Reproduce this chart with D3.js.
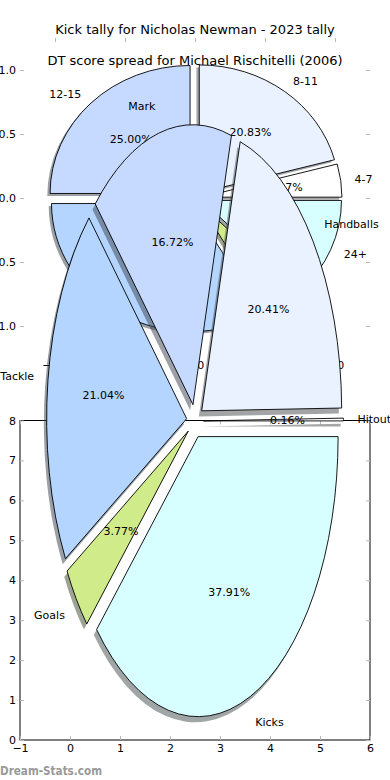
<!DOCTYPE html>
<html>
<head>
<meta charset="utf-8">
<script src="https://cdn.jsdelivr.net/npm/d3@7"></script>
<style>
body { margin: 0; background: #fff; }
text { font-family: "DejaVu Sans", sans-serif; }
</style>
</head>
<body>
<div id="wrapper"></div>
<script>
const titleKicks = 'Kick tally for Nicholas Newman - 2023 tally'
const titleDT = 'DT score spread for Michael Rischitelli (2006)'

// DT score spread (upper pie)
const dtRanges = ['4-7', '8-11', '12-15', '16-19', '20-23', '24+']
const dtShares = [4.17, 20.83, 25.00, 33.33, 4.17, 12.50]

// kick tally (lower pie)
const statNames = ['Hitout', 'Handballs', 'Mark', 'Tackle', 'Goals', 'Kicks']
const statShares = [0.16, 20.41, 16.72, 21.04, 3.77, 37.91]

const pieTicks = [-1, -0.5, 0, 0.5, 1]
const frameXTicks = [-1, 0, 1, 2, 3, 4, 5, 6]
const frameYTicks = [0, 1, 2, 3, 4, 5, 6, 7, 8]

const sliceColors = ['#ffffff', '#eaf2ff', '#c6d9ff', '#b3d5ff', '#d0eb8a', '#d8ffff']

const width = 390
const height = 780

const svg = d3.select('#wrapper')
    .append('svg')
    .attr('width', width)
    .attr('height', height)

const tickGrey = '#b8b8b8'
const fontSize = 11

// scales
const dtX = d3.scaleLinear().domain([-1.25, 1.25]).range([20, 370])
const dtY = d3.scaleLinear().domain([-1.25, 1.25]).range([358, 38])
const statX = d3.scaleLinear().domain([-1.25, 1.25]).range([20, 370])
const statY = d3.scaleLinear().domain([-1.25, 1.25]).range([771, 71])
const frameX = d3.scaleLinear().domain([-1, 6]).range([20, 370])
const frameY = d3.scaleLinear().domain([0, 8]).range([740, 420.5])

const styleAxis = (g) => {
    g.select('.domain').remove()
    g.selectAll('line').attr('stroke', tickGrey)
    g.selectAll('text')
        .attr('fill', '#000')
        .style('font-size', fontSize + 'px')
        .style('font-family', '"DejaVu Sans", sans-serif')
}

// upper axes: ticks only, no frame
const dtAxes = svg.append('g')
dtAxes.append('g')
    .attr('transform', `translate(${dtX.range()[0]},0)`)
    .call(d3.axisLeft(dtY).tickValues(pieTicks).tickFormat(d3.format('.1f')).tickSizeInner(-4).tickSizeOuter(0).tickPadding(4))
    .call(styleAxis)
dtAxes.append('g')
    .attr('transform', `translate(${dtX.range()[1]},0)`)
    .call(d3.axisRight(dtY).tickValues(pieTicks).tickFormat('').tickSizeInner(-4).tickSizeOuter(0))
    .call(styleAxis)
dtAxes.append('g')
    .attr('transform', `translate(0,${dtY.range()[1]})`)
    .call(d3.axisTop(dtX).tickValues(pieTicks).tickFormat('').tickSizeInner(-4).tickSizeOuter(0))
    .call(styleAxis)
dtAxes.append('g')
    .attr('transform', `translate(0,${dtY.range()[0]})`)
    .call(d3.axisBottom(dtX).tickValues(pieTicks).tickFormat(d3.format('.1f')).tickSizeInner(-4).tickSizeOuter(0).tickPadding(3))
    .call(styleAxis)

// titles
svg.append('text')
    .text(titleKicks)
    .attr('x', 195)
    .attr('y', 34)
    .attr('text-anchor', 'middle')
    .style('font-size', '13px')
svg.append('text')
    .text(titleDT)
    .attr('x', 195)
    .attr('y', 65)
    .attr('text-anchor', 'middle')
    .style('font-size', '13px')

const drawPie = (layer, names, values, scaleX, scaleY, explode, shadowY) => {
    const rx = scaleX(1) - scaleX(0)
    const ry = scaleY(0) - scaleY(1)
    const arcs = d3.pie()
        .sort(null)
        .startAngle(Math.PI / 2)
        .endAngle(Math.PI / 2 - 2 * Math.PI)(values)
    const arc = d3.arc().innerRadius(0).outerRadius(1)
    const mid = (d) => (d.startAngle + d.endAngle) / 2
    const offX = (d) => explode * Math.sin(mid(d))
    const offY = (d) => explode * Math.cos(mid(d))

    const shadowColor = (i) => {
        const c = d3.rgb(sliceColors[i % sliceColors.length])
        return d3.rgb(c.r * 0.3, c.g * 0.3, c.b * 0.3).toString()
    }

    // shadows sit under every wedge
    layer.append('g')
        .selectAll('path')
        .data(arcs)
        .join('path')
        .attr('transform', (d) => `translate(${scaleX(offX(d) - 0.02)},${scaleY(offY(d) - shadowY)}) scale(${rx},${ry})`)
        .attr('d', arc)
        .attr('fill', (d, i) => shadowColor(i))
        .attr('fill-opacity', 0.5)
        .attr('stroke', 'none')

    layer.append('g')
        .selectAll('path')
        .data(arcs)
        .join('path')
        .attr('transform', (d) => `translate(${scaleX(offX(d))},${scaleY(offY(d))}) scale(${rx},${ry})`)
        .attr('d', arc)
        .attr('fill', (d, i) => sliceColors[i % sliceColors.length])
        .attr('stroke', '#000')
        .attr('stroke-width', 0.9)
        .attr('vector-effect', 'non-scaling-stroke')

    layer.append('g')
        .selectAll('text')
        .data(arcs)
        .join('text')
        .text((d, i) => names[i])
        .attr('x', (d) => scaleX(offX(d) + 1.1 * Math.sin(mid(d))))
        .attr('y', (d) => scaleY(offY(d) + 1.1 * Math.cos(mid(d))))
        .attr('dy', '0.35em')
        .attr('text-anchor', (d) => Math.sin(mid(d)) > 0 ? 'start' : 'end')
        .style('font-size', fontSize + 'px')

    layer.append('g')
        .selectAll('text')
        .data(arcs)
        .join('text')
        .text((d) => d3.format('.2f')(d.data) + '%')
        .attr('x', (d) => scaleX(offX(d) + 0.6 * Math.sin(mid(d))))
        .attr('y', (d) => scaleY(offY(d) + 0.6 * Math.cos(mid(d))))
        .attr('dy', '0.35em')
        .attr('text-anchor', 'middle')
        .style('font-size', fontSize + 'px')
}

drawPie(svg.append('g'), dtRanges, dtShares, dtX, dtY, 0.05, 0.02)

// lower axes with a frame
const frame = svg.append('g')
frame.append('rect')
    .attr('x', frameX.range()[0])
    .attr('y', frameY.range()[1])
    .attr('width', frameX.range()[1] - frameX.range()[0])
    .attr('height', frameY.range()[0] - frameY.range()[1])
    .attr('fill', 'none')
    .attr('stroke', '#000')
    .attr('stroke-width', 1)
frame.append('g')
    .attr('transform', `translate(${frameX.range()[0]},0)`)
    .call(d3.axisLeft(frameY).tickValues(frameYTicks).tickFormat(d3.format('d')).tickSizeInner(-4).tickSizeOuter(0).tickPadding(4))
    .call(styleAxis)
frame.append('g')
    .attr('transform', `translate(${frameX.range()[1]},0)`)
    .call(d3.axisRight(frameY).tickValues(frameYTicks).tickFormat('').tickSizeInner(-4).tickSizeOuter(0))
    .call(styleAxis)
frame.append('g')
    .attr('transform', `translate(0,${frameY.range()[0]})`)
    .call(d3.axisBottom(frameX).tickValues(frameXTicks).tickFormat(d3.format('d')).tickSizeInner(-4).tickSizeOuter(0).tickPadding(4))
    .call(styleAxis)
frame.append('g')
    .attr('transform', `translate(0,${frameY.range()[1]})`)
    .call(d3.axisTop(frameX).tickValues(frameXTicks).tickFormat('').tickSizeInner(-4).tickSizeOuter(0))
    .call(styleAxis)

drawPie(svg.append('g'), statNames, statShares, statX, statY, 0.06, 0.02)

svg.append('text')
    .text('Dream-Stats.com')
    .attr('x', 0)
    .attr('y', 775)
    .attr('fill', '#9a9a9a')
    .attr('textLength', 102)
    .attr('lengthAdjust', 'spacingAndGlyphs')
    .style('font-size', '13px')
    .style('font-weight', 'bold')
</script>
</body>
</html>
